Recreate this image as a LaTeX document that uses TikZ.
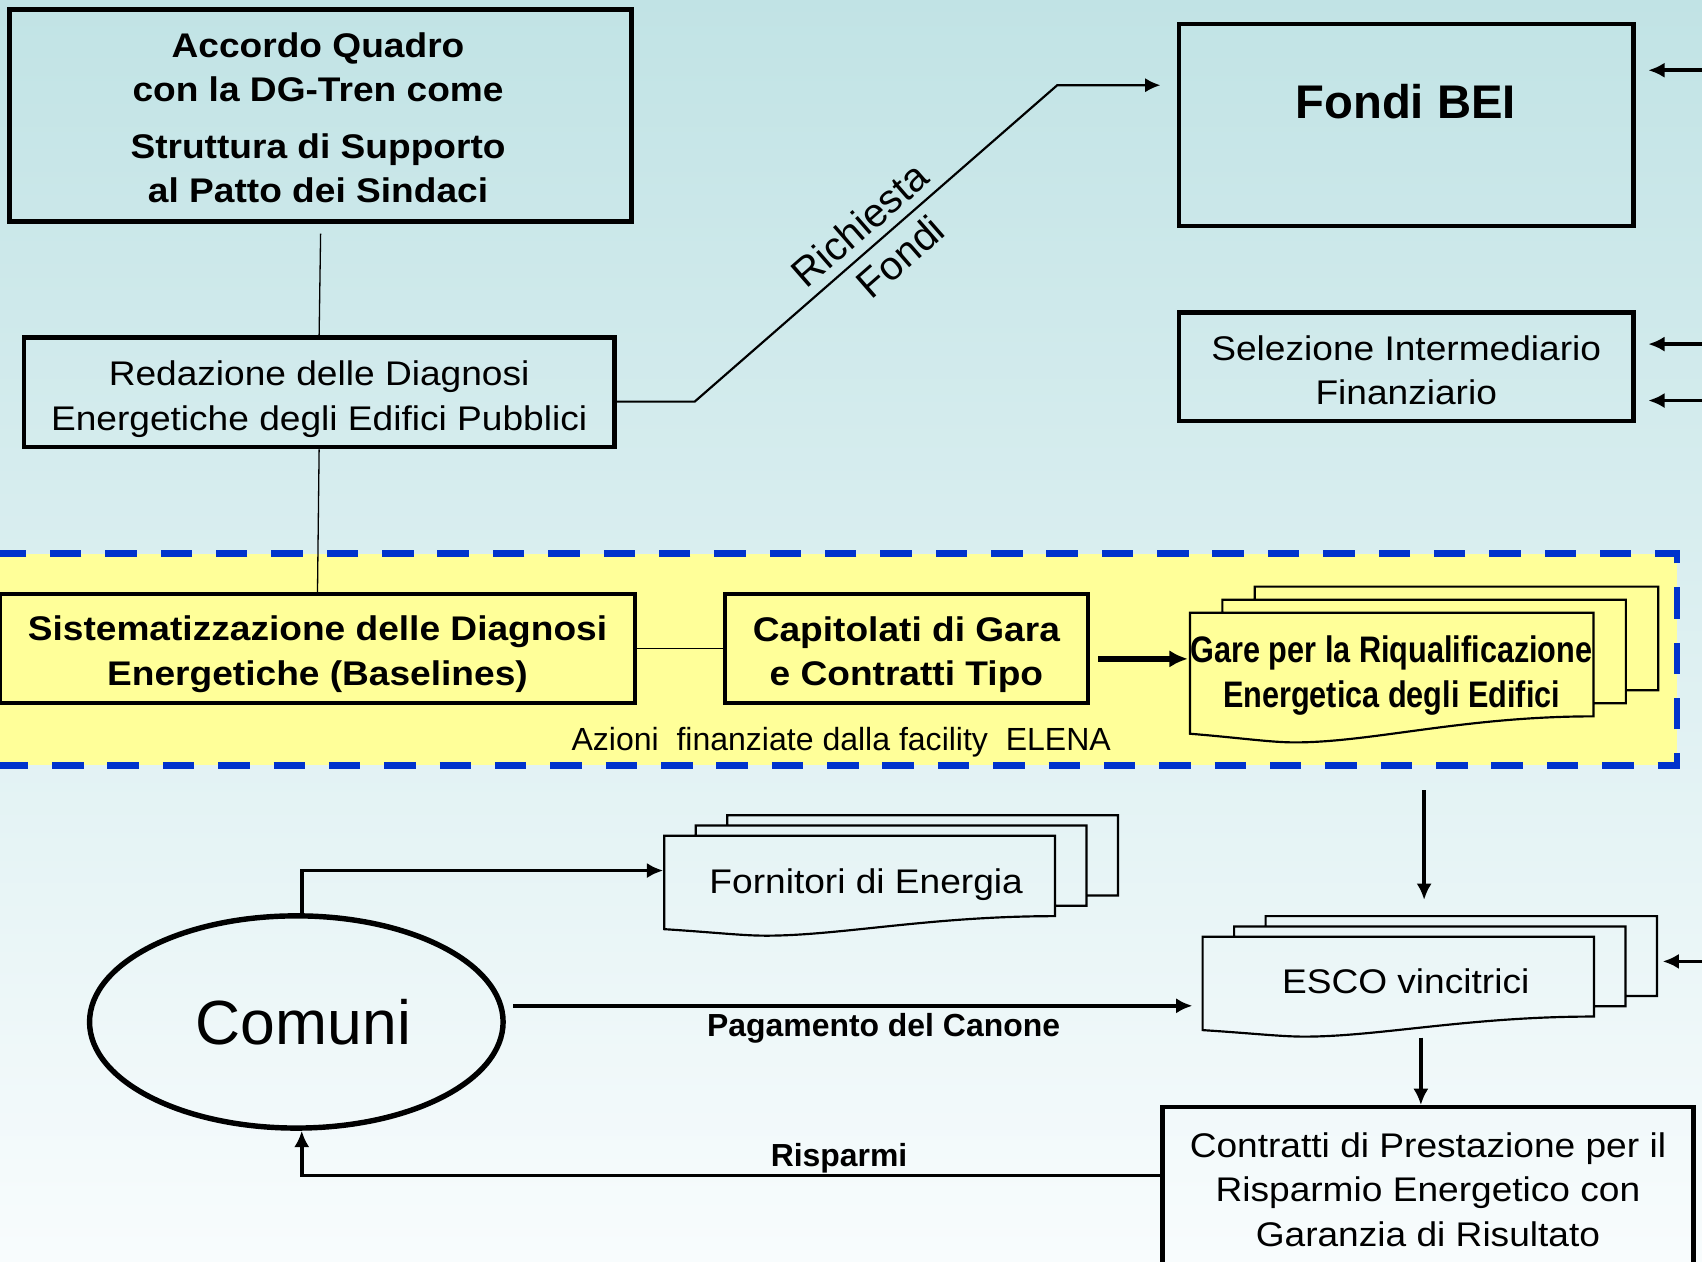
\documentclass[tikz,border=0pt]{standalone}
\usepackage{fontspec}
\setmainfont{Liberation Sans}
\newfontfamily\wfont[FakeStretch=1.085]{Liberation Sans}
\newfontfamily\cfont[FakeStretch=0.83]{Liberation Sans}
\usetikzlibrary{arrows.meta,shapes.geometric,calc}
\definecolor{bgtop}{RGB}{193,227,229}
\definecolor{bgbot}{RGB}{248,252,253}
\definecolor{bandyellow}{RGB}{255,255,153}
\definecolor{bandblue}{RGB}{0,51,204}
\newcommand\docstack[5]{%
  \draw[docline] let \p1=(#1.north west), \p2=(#1.south east), \n1={\x2-\x1} in
    (\x1+2*#4, \y1+#5) -- (\x1+2*#4, \y1+2*#5) -- (\x2+2*#4, \y1+2*#5) -- (\x2+2*#4, \y2+#3+2*#5) -- (\x2+#4, \y2+#3+2*#5)
    (\x1+#4, \y1) -- (\x1+#4, \y1+#5) -- (\x2+#4, \y1+#5) -- (\x2+#4, \y2+#3+#5) -- (\x2, \y2+#3+#5)
    (\x1,\y1) -- (\x2,\y1) -- (\x2,\y2+#3)
      .. controls (\x1+0.68*\n1, \y2+#3) and (\x1+0.45*\n1, \y2-#2) .. (\x1+0.26*\n1, \y2-#2)
      .. controls (\x1+0.2*\n1, \y2-#2) and (\x1+0.13*\n1, \y2-0.5*#2) .. (\x1,\y2) -- cycle;
}
\begin{document}
\begin{tikzpicture}[x=1pt,y=-1pt,
  box/.style={draw, line width=4pt, align=center, inner sep=0pt},
  docnode/.style={inner sep=0pt, outer sep=0pt},
  docline/.style={draw, line width=2pt, line join=miter},
  wtxt/.style={font=\wfont\fontsize{31.5}{41}\selectfont, align=center},
  wbtxt/.style={font=\wfont\bfseries\fontsize{31.5}{41}\selectfont, align=center},
  cbtxt/.style={font=\cfont\bfseries\fontsize{34}{42}\selectfont, align=center},
  lbtxt/.style={font=\bfseries\fontsize{29.4}{34}\selectfont},
  lbl/.style={font=\fontsize{37}{42}\selectfont},
  thinline/.style={line width=1.2pt},
  arr/.style={line width=3.3pt, -{Latex[length=15pt,width=14pt]}},
  bigarr/.style={line width=5pt, -{Latex[length=17pt,width=16pt]}},
  rarr/.style={line width=2pt, line join=miter, -{Latex[length=14pt,width=13pt]}}
]
\useasboundingbox (0,0) rectangle (1568,1162);
\shade[top color=bgtop, bottom color=bgbot] (0,0) rectangle (1568,1162);

% yellow band
\node[draw=bandblue, fill=bandyellow, line width=6pt, dash pattern=on 29pt off 22pt,
      minimum width=1548pt, minimum height=195pt, inner sep=0pt] (band) at (771,607.5) {};
\node[font=\fontsize{29.5}{35}\selectfont] (elena) at (775,684) {Azioni\ \ finanziate dalla facility\ \ ELENA};

% boxes
\node[box, line width=4.5pt, minimum width=573pt, minimum height=195pt] (accordo) at (295.5,106.5) {};
\node[wbtxt] (accordotxt) at (293,108.5)
  {Accordo Quadro\\con la DG-Tren come\\[11pt]Struttura di Supporto\\al Patto dei Sindaci};
\node[box, minimum width=544pt, minimum height=101pt] (redaz) at (294,361.5) {};
\node[wtxt] (redaztxt) at (294,367.5) {Redazione delle Diagnosi\\Energetiche degli Edifici Pubblici};
\node[box, minimum width=419pt, minimum height=186pt] (fondi) at (1295.5,115) {};
\node[font=\bfseries\fontsize{43.5}{50}\selectfont] (fonditxt) at (1295,93.5) {Fondi BEI};
\node[box, minimum width=419pt, minimum height=100pt] (selez) at (1295.5,338) {};
\node[wtxt] (seleztxt) at (1295.5,341) {Selezione Intermediario\\Finanziario};
\node[box, line width=3.5pt, minimum width=585pt, minimum height=101pt] (sistem) at (292.5,597.5) {};
\node[wbtxt] (sistemtxt) at (292.5,602.5) {Sistematizzazione delle Diagnosi\\Energetiche (Baselines)};
\node[box, line width=3.5pt, minimum width=334pt, minimum height=101pt] (capit) at (835,597.5) {};
\node[wbtxt] (capittxt) at (835,603) {Capitolati di Gara\\e Contratti Tipo};
\node[box, minimum width=489pt, minimum height=150pt] (contr) at (1315.5,1095) {};
\node[wtxt] (contrtxt) at (1315.5,1096)
  {Contratti di Prestazione per il\\Risparmio Energetico con\\Garanzia di Risultato};

% document stacks
\node[docnode, minimum width=371.7pt, minimum height=111.5pt] (gare) at (1282.2,620.2) {};
\docstack{gare}{8pt}{16pt}{29.8pt}{12pt}
\node[cbtxt] (garetxt) at (1282,622.5) {Gare per la Riqualificazione\\Energetica degli Edifici};
\node[docnode, minimum width=360pt, minimum height=86pt] (fornit) at (792,813) {};
\docstack{fornit}{6pt}{12pt}{29pt}{9.5pt}
\node[wtxt] (fornittxt) at (798,815) {Fornitori di Energia};
\node[docnode, minimum width=360.5pt, minimum height=86pt] (esco) at (1288.2,906) {};
\docstack{esco}{6pt}{12.5pt}{29pt}{9.5pt}
\node[wtxt] (escotxt) at (1295,904) {ESCO vincitrici};

% ellipse
\node[ellipse, draw, line width=5pt, minimum width=381pt, minimum height=195.5pt, inner sep=0pt] (comuni) at (273,941.5) {};
\node[font=\fontsize{57.5}{60}\selectfont] (comunitxt) at (279.5,942) {Comuni};

% thin connectors
\draw[thinline, shorten <=9pt] (accordo.south) -- (redaz.north);
\draw[thinline] (redaz.south) -- (sistem.north);
\draw[thinline] (sistem.east) -- (capit.west);

% Richiesta Fondi
\coordinate (b1) at (640,370);
\coordinate (b2) at (974,78.5);
\draw[rarr] (redaz.east |- b1) -- (b1)
  -- node[sloped, above=5pt, lbl] (richtxt) {Richiesta}
     node[sloped, below=6pt, pos=0.52, lbl] (fonditxt2) {Fondi} (b2)
  -- ([xshift=-15pt]fondi.west |- b2);

% incoming arrows from right edge
\coordinate (inF) at (1580,64.7);
\coordinate (inS1) at (1580,317);
\coordinate (inS2) at (1580,369);
\coordinate (inE) at (1580,885.7);
\draw[arr] (inF) -- ([xshift=11.5pt]fondi.east |- inF);
\draw[arr] (inS1) -- ([xshift=11.5pt]selez.east |- inS1);
\draw[arr] (inS2) -- ([xshift=11.5pt]selez.east |- inS2);
\draw[arr] (inE) -- ([xshift=63.3pt]esco.east |- inE);

% Capitolati -> Gare
\coordinate (cgY) at (0,607);
\draw[bigarr, shorten <=8pt, shorten >=2pt] (capit.east |- cgY) -- (gare.west |- cgY);

% Gare -> ESCO
\coordinate (geTop) at (1312,728);
\draw[arr, shorten >=34pt] (geTop) -- (geTop |- esco.north);

% ESCO -> Contratti
\coordinate (ecTop) at (1309,956);
\draw[arr] (ecTop) -- (ecTop |- contr.north);

% Comuni -> Fornitori
\coordinate (cfY) at (0,802);
\draw[arr, line join=miter] ([xshift=5pt]comuni.north) |- ([xshift=-1pt]fornit.west |- cfY);

% Pagamento del Canone
\coordinate (pagY) at (0,926.6);
\draw[arr, shorten <=7pt, shorten >=9.4pt] (comuni.east |- pagY) -- (esco.west |- pagY);
\node[lbtxt] (pag) at (814,947) {Pagamento del Canone};

% Risparmi
\coordinate (rY) at (0,1083);
\draw[arr, line join=miter] (contr.west |- rY) -| ([xshift=5pt]comuni.south);
\node[lbtxt] (risp) at (773,1067) {Risparmi};
\end{tikzpicture}
\end{document}
